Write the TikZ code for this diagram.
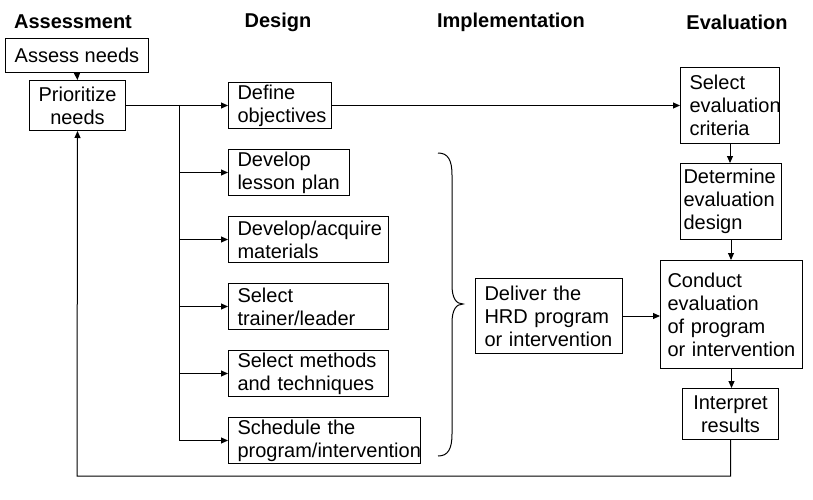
\documentclass[tikz,border=0pt]{standalone}
\usepackage{fontspec}
\setmainfont{Liberation Sans}
\usetikzlibrary{arrows.meta}

\tikzset{
  box/.style={draw, line width=1pt, anchor=north west, align=left, inner xsep=9pt, inner ysep=0pt, font=\fontsize{20}{23}\selectfont},
  cbox/.style={draw, line width=1pt, anchor=north west, align=center, inner xsep=2pt, inner ysep=0pt, font=\fontsize{20}{23}\selectfont},
  head/.style={font=\fontsize{20}{23}\selectfont\bfseries},
  arr/.style={line width=1pt, -{Triangle[length=7pt,width=6pt]}},
}

\begin{document}
\begin{tikzpicture}[x=1pt, y=-1pt, line width=1pt]
        \useasboundingbox (0,0) rectangle (813,500);

        \node[head] (H1) at (73,22) {Assessment};
        \node[head] (H2) at (278,22) {Design};
        \node[head] (H3) at (511,22) {Implementation};
        \node[head] (H4) at (737,22) {Evaluation};

        \node[cbox, minimum width=143pt, minimum height=34pt] (Ass) at (5,38) {Assess needs};
        \node[cbox, minimum width=96pt, minimum height=50pt] (Pri) at (29,80) {Prioritize\\needs};

        \node[box, text width=85pt, minimum height=46pt] (Def) at (228,82) {Define\\objectives};
        \node[box, text width=103pt, minimum height=46pt] (Les) at (228,149) {Develop\\lesson plan};
        \node[box, text width=142pt, minimum height=46pt] (Mat) at (228,216) {Develop/acquire\\materials};
        \node[box, text width=142pt, minimum height=46pt] (Tra) at (228,283) {Select\\trainer/leader};
        \node[box, text width=142pt, minimum height=46pt] (Met) at (228,350) {Select methods\\and techniques};
        \node[box, text width=174pt, minimum height=46pt] (Sch) at (228,417) {Schedule the\\program/intervention};

        \node[box, text width=129pt, minimum height=75pt] (Del) at (475,278) {Deliver the\\HRD program\\or intervention};

        \node[box, text width=81pt, minimum height=76pt] (Cri) at (680,67) {Select\\evaluation\\criteria};
        \node[box, inner xsep=3pt, text width=95pt, minimum height=76pt] (Dsg) at (680,163) {Determine\\evaluation\\design};
        \node[box, inner xsep=7pt, text width=128pt, minimum height=108pt] (Con) at (660,260) {Conduct\\evaluation\\of program\\or intervention};
        \node[cbox, minimum width=96pt, minimum height=51pt] (Int) at (682,388) {Interpret\\results};

        \coordinate (bus) at (179,105);
        \coordinate (fb) at (77,476);

        \draw[arr] (Ass.south) -- (Pri.north);
        \draw[arr] (Pri.east) -- (Def.west);
        \draw (bus) -- (bus |- Sch.west);
        \draw[arr] (bus |- Les.west) -- (Les.west);
        \draw[arr] (bus |- Mat.west) -- (Mat.west);
        \draw[arr] (bus |- Tra.west) -- (Tra.west);
        \draw[arr] (bus |- Met.west) -- (Met.west);
        \draw[arr] (bus |- Sch.west) -- (Sch.west);

        \draw[arr] (Def.east) -- (Def.east -| Cri.west);
        \draw[arr] (Cri.south) -- (Cri.south |- Dsg.north);
        \draw[arr] (Dsg.south) -- (Dsg.south |- Con.north);
        \draw[arr] (Del.east) -- (Del.east -| Con.west);
        \draw[arr] (Con.south) -- (Con.south |- Int.north);
        \draw[arr] (Int.south) |- (fb) -- (Pri.south);

        % brace
        \draw (438,153) .. controls (448,153) and (452,160) .. (452,175) -- (452,285)
              .. controls (452,298) and (456,304) .. (463,304)
              .. controls (456,304) and (452,310) .. (452,323) -- (452,434)
              .. controls (452,449) and (448,456) .. (438,456);
\end{tikzpicture}
\end{document}
